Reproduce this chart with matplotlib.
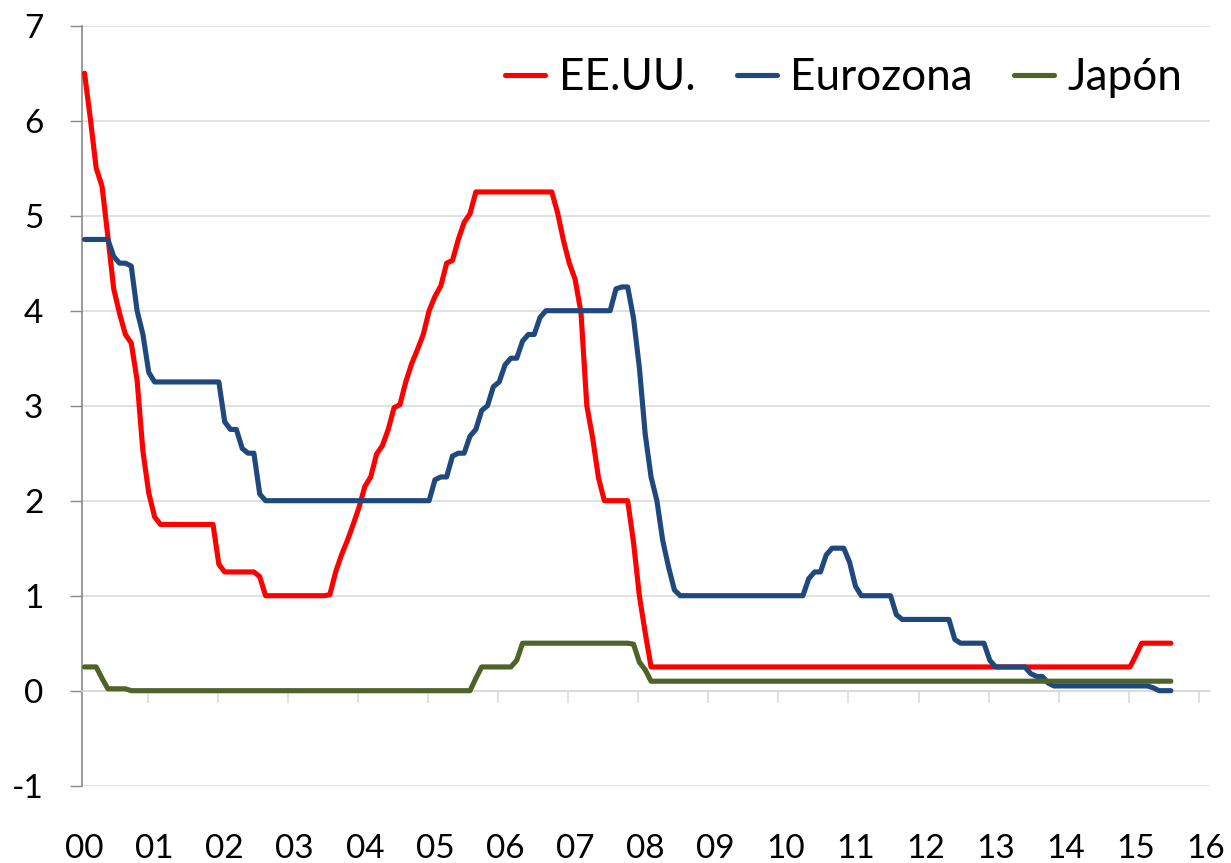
import numpy as np
import matplotlib
matplotlib.use("Agg")
import matplotlib.pyplot as plt

plt.rcParams['font.family'] = ['Lato', 'DejaVu Sans']

# Monthly policy rates, Dec 2000 .. Jun 2016 (one value per month)
us = [
    6.50,
    6.02, 5.50, 5.31, 4.78, 4.23, 3.97, 3.75, 3.66, 3.27, 2.52, 2.08, 1.83,  # 2001
    1.75, 1.75, 1.75, 1.75, 1.75, 1.75, 1.75, 1.75, 1.75, 1.75, 1.33, 1.25,  # 2002
    1.25, 1.25, 1.25, 1.25, 1.25, 1.20, 1.00, 1.00, 1.00, 1.00, 1.00, 1.00,  # 2003
    1.00, 1.00, 1.00, 1.00, 1.00, 1.01, 1.25, 1.43, 1.58, 1.75, 1.93, 2.15,  # 2004
    2.25, 2.49, 2.58, 2.75, 2.98, 3.01, 3.25, 3.44, 3.59, 3.75, 4.00, 4.15,  # 2005
    4.26, 4.50, 4.53, 4.75, 4.93, 5.02, 5.25, 5.25, 5.25, 5.25, 5.25, 5.25,  # 2006
    5.25, 5.25, 5.25, 5.25, 5.25, 5.25, 5.25, 5.25, 5.03, 4.74, 4.50, 4.33,  # 2007
    3.98, 3.00, 2.66, 2.24, 2.00, 2.00, 2.00, 2.00, 2.00, 1.56, 1.00, 0.61,  # 2008
    0.25, 0.25, 0.25, 0.25, 0.25, 0.25, 0.25, 0.25, 0.25, 0.25, 0.25, 0.25,  # 2009
    0.25, 0.25, 0.25, 0.25, 0.25, 0.25, 0.25, 0.25, 0.25, 0.25, 0.25, 0.25,  # 2010
    0.25, 0.25, 0.25, 0.25, 0.25, 0.25, 0.25, 0.25, 0.25, 0.25, 0.25, 0.25,  # 2011
    0.25, 0.25, 0.25, 0.25, 0.25, 0.25, 0.25, 0.25, 0.25, 0.25, 0.25, 0.25,  # 2012
    0.25, 0.25, 0.25, 0.25, 0.25, 0.25, 0.25, 0.25, 0.25, 0.25, 0.25, 0.25,  # 2013
    0.25, 0.25, 0.25, 0.25, 0.25, 0.25, 0.25, 0.25, 0.25, 0.25, 0.25, 0.25,  # 2014
    0.25, 0.25, 0.25, 0.25, 0.25, 0.25, 0.25, 0.25, 0.25, 0.25, 0.25, 0.37,  # 2015
    0.50, 0.50, 0.50, 0.50, 0.50, 0.50,                                      # 2016
]

eurozone = [
    4.75,
    4.75, 4.75, 4.75, 4.75, 4.57, 4.50, 4.50, 4.47, 4.00, 3.75, 3.35, 3.25,  # 2001
    3.25, 3.25, 3.25, 3.25, 3.25, 3.25, 3.25, 3.25, 3.25, 3.25, 3.25, 2.83,  # 2002
    2.75, 2.75, 2.55, 2.50, 2.50, 2.07, 2.00, 2.00, 2.00, 2.00, 2.00, 2.00,  # 2003
    2.00, 2.00, 2.00, 2.00, 2.00, 2.00, 2.00, 2.00, 2.00, 2.00, 2.00, 2.00,  # 2004
    2.00, 2.00, 2.00, 2.00, 2.00, 2.00, 2.00, 2.00, 2.00, 2.00, 2.00, 2.22,  # 2005
    2.25, 2.25, 2.47, 2.50, 2.50, 2.68, 2.75, 2.95, 3.00, 3.20, 3.25, 3.43,  # 2006
    3.50, 3.50, 3.68, 3.75, 3.75, 3.93, 4.00, 4.00, 4.00, 4.00, 4.00, 4.00,  # 2007
    4.00, 4.00, 4.00, 4.00, 4.00, 4.00, 4.23, 4.25, 4.25, 3.92, 3.40, 2.70,  # 2008
    2.25, 2.00, 1.58, 1.30, 1.06, 1.00, 1.00, 1.00, 1.00, 1.00, 1.00, 1.00,  # 2009
    1.00, 1.00, 1.00, 1.00, 1.00, 1.00, 1.00, 1.00, 1.00, 1.00, 1.00, 1.00,  # 2010
    1.00, 1.00, 1.00, 1.18, 1.25, 1.25, 1.43, 1.50, 1.50, 1.50, 1.35, 1.10,  # 2011
    1.00, 1.00, 1.00, 1.00, 1.00, 1.00, 0.80, 0.75, 0.75, 0.75, 0.75, 0.75,  # 2012
    0.75, 0.75, 0.75, 0.75, 0.54, 0.50, 0.50, 0.50, 0.50, 0.50, 0.32, 0.25,  # 2013
    0.25, 0.25, 0.25, 0.25, 0.25, 0.18, 0.15, 0.15, 0.08, 0.05, 0.05, 0.05,  # 2014
    0.05, 0.05, 0.05, 0.05, 0.05, 0.05, 0.05, 0.05, 0.05, 0.05, 0.05, 0.05,  # 2015
    0.05, 0.05, 0.03, 0.00, 0.00, 0.00,                                      # 2016
]

japan = [
    0.25,
    0.25, 0.25, 0.13, 0.02, 0.02, 0.02, 0.02, 0.00, 0.00, 0.00, 0.00, 0.00,  # 2001
    0.00, 0.00, 0.00, 0.00, 0.00, 0.00, 0.00, 0.00, 0.00, 0.00, 0.00, 0.00,  # 2002
    0.00, 0.00, 0.00, 0.00, 0.00, 0.00, 0.00, 0.00, 0.00, 0.00, 0.00, 0.00,  # 2003
    0.00, 0.00, 0.00, 0.00, 0.00, 0.00, 0.00, 0.00, 0.00, 0.00, 0.00, 0.00,  # 2004
    0.00, 0.00, 0.00, 0.00, 0.00, 0.00, 0.00, 0.00, 0.00, 0.00, 0.00, 0.00,  # 2005
    0.00, 0.00, 0.00, 0.00, 0.00, 0.00, 0.13, 0.25, 0.25, 0.25, 0.25, 0.25,  # 2006
    0.25, 0.32, 0.50, 0.50, 0.50, 0.50, 0.50, 0.50, 0.50, 0.50, 0.50, 0.50,  # 2007
    0.50, 0.50, 0.50, 0.50, 0.50, 0.50, 0.50, 0.50, 0.50, 0.49, 0.30, 0.22,  # 2008
    0.10, 0.10, 0.10, 0.10, 0.10, 0.10, 0.10, 0.10, 0.10, 0.10, 0.10, 0.10,  # 2009
    0.10, 0.10, 0.10, 0.10, 0.10, 0.10, 0.10, 0.10, 0.10, 0.10, 0.10, 0.10,  # 2010
    0.10, 0.10, 0.10, 0.10, 0.10, 0.10, 0.10, 0.10, 0.10, 0.10, 0.10, 0.10,  # 2011
    0.10, 0.10, 0.10, 0.10, 0.10, 0.10, 0.10, 0.10, 0.10, 0.10, 0.10, 0.10,  # 2012
    0.10, 0.10, 0.10, 0.10, 0.10, 0.10, 0.10, 0.10, 0.10, 0.10, 0.10, 0.10,  # 2013
    0.10, 0.10, 0.10, 0.10, 0.10, 0.10, 0.10, 0.10, 0.10, 0.10, 0.10, 0.10,  # 2014
    0.10, 0.10, 0.10, 0.10, 0.10, 0.10, 0.10, 0.10, 0.10, 0.10, 0.10, 0.10,  # 2015
    0.10, 0.10, 0.10, 0.10, 0.10, 0.10,                                      # 2016
]

series_names = ['EE.UU.', 'Eurozona', 'Japón']
series_colors = ['#FF0000', '#1F497D', '#4F6228']
x_labels = ['00', '01', '02', '03', '04', '05', '06', '07', '08', '09',
            '10', '11', '12', '13', '14', '15', '16']
y_ticks = [-1, 0, 1, 2, 3, 4, 5, 6, 7]

W, H = 1231, 863
fig = plt.figure(figsize=(W / 100, H / 100), dpi=100)
left_px, right_px, top_px, bot_px = 82.3, 1210, 25.7, 785.7
ax = fig.add_axes([left_px / W, 1 - bot_px / H, (right_px - left_px) / W, (bot_px - top_px) / H])

x = np.arange(len(us))
for vals, name, col in zip([us, eurozone, japan], series_names, series_colors):
    ax.plot(x, vals, color=col, lw=3.7, label=name,
            solid_capstyle='round', solid_joinstyle='round', zorder=3)

ax.set_xlim(-0.38, 192.7)
ax.set_ylim(-1, 7)

# y axis
ax.set_yticks(y_ticks)
ax.set_yticklabels([str(v) for v in y_ticks])
ax.tick_params(axis='y', direction='out', length=8.6, width=1.0, color='#898989',
               pad=19.4, labelsize=24, labelcolor='black')
ax.spines['left'].set_color('#898989')
ax.spines['left'].set_linewidth(1.2)
ax.spines['top'].set_visible(False)
ax.spines['right'].set_visible(False)

# horizontal axis crossing at 0
ax.spines['bottom'].set_position(('data', 0))
ax.spines['bottom'].set_color('#D9D9D9')
ax.spines['bottom'].set_linewidth(1.1)
ax.set_xticks(np.arange(1, 17) * 12 - 1.2)
ax.tick_params(axis='x', direction='out', length=8.6, width=1.1, color='#D9D9D9',
               labelbottom=False)

ax.grid(axis='y', color='#D9D9D9', lw=1.1)
ax.set_axisbelow(True)

# category labels at the bottom
sec = ax.secondary_xaxis(0.0)
sec.set_xticks(np.arange(len(x_labels)) * 12, labels=x_labels)
sec.tick_params(axis='x', length=0, pad=35, labelsize=24)
for s in sec.spines.values():
    s.set_visible(False)

ax.legend(loc='center right', bbox_to_anchor=(1182 / W, 1 - 78 / H),
          bbox_transform=fig.transFigure, ncol=3, frameon=False, fontsize=31.8,
          handlelength=0.91, handletextpad=0.3, columnspacing=0.93,
          borderpad=0, borderaxespad=0)

fig.savefig('out.png', dpi=100)
